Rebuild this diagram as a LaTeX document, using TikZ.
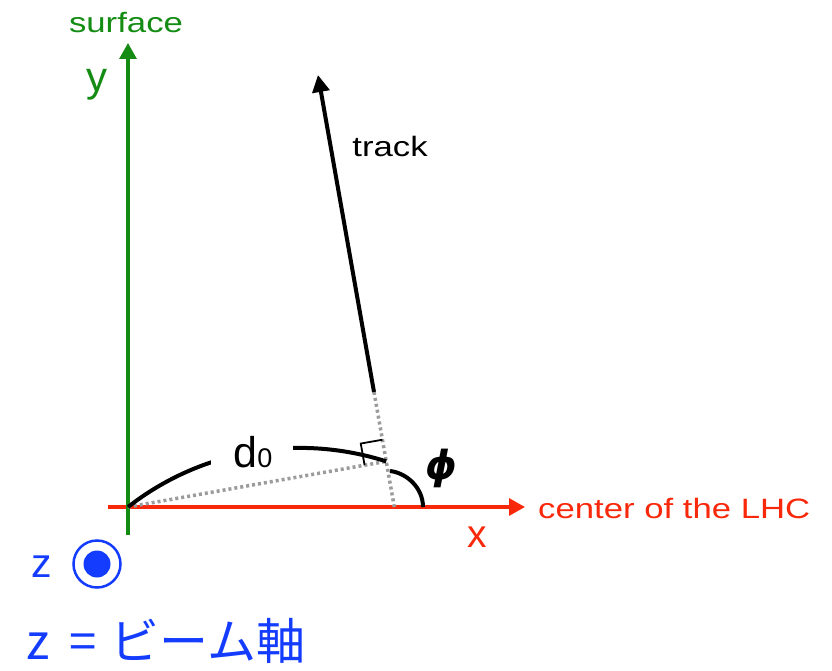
\documentclass[tikz,border=0pt]{standalone}
\usepackage{fontspec}
\usepackage{graphicx}
\setmainfont{Liberation Sans}
\newfontfamily\jpfont{Noto Sans CJK JP}
\newfontfamily\dvfont{DejaVu Sans}
\usetikzlibrary{arrows.meta,calc}
\definecolor{axgreen}{RGB}{20,140,20}
\definecolor{axred}{RGB}{250,40,10}
\definecolor{zblue}{RGB}{20,60,255}
\definecolor{dotgray}{RGB}{155,155,155}
\newcommand\widetext[1]{\scalebox{1.24}[1]{#1}}
\begin{document}
\begin{tikzpicture}[x=1pt,y=-1pt,
  axisline/.style={line width=3.3pt,-{Triangle[length=16pt,width=17pt]}},
  trackline/.style={line width=4pt,-{Triangle[length=17pt,width=17pt]}},
  guide/.style={dotgray,line width=3.5pt,dash pattern=on 3pt off 3pt},
  measure/.style={line width=4pt},
  rightmark/.style={line width=1.8pt},
  smalllabel/.style={inner sep=0pt,font=\fontsize{28pt}{32pt}\selectfont},
  biglabel/.style={inner sep=0pt,font=\fontsize{42pt}{46pt}\selectfont}]
\useasboundingbox (0,0) rectangle (832,671);

% axes
\coordinate (O) at (128,507);
\coordinate (Xstart) at (108,507);
\coordinate (Xend) at (525,507);
\coordinate (Ystart) at (128,535);
\coordinate (Yend) at (128,43);
\draw[axisline,axred] (Xstart) -- (Xend);
\draw[axisline,axgreen] (Ystart) -- (Yend);

% track
\coordinate (S) at (374,392);
\coordinate (T) at (318,75);
\coordinate (F) at ($(S)!(O)!(T)$);
\coordinate (P) at (intersection of S--T and O--Xend);
\draw[guide] (S) -- (P);
\draw[guide] (O) -- (F);
\draw[trackline] (S) -- (T);

% right angle mark
\coordinate (RA) at ($(F)!22pt!(T)$);
\coordinate (RB) at ($(F)!22pt!(O)$);
\coordinate (RC) at ($(RA)+(RB)-(F)$);
\draw[rightmark] (RA) -- (RC) -- (RB);

% d0 measure arc
\draw[measure] (O) .. controls (201,450) and (297,433) .. (F);
\fill[white] (211,436) rectangle (293,472);
\node[inner sep=0pt,anchor=base] (d0) at (253,467)
  {\fontsize{43pt}{46pt}\selectfont d\fontsize{27pt}{30pt}\selectfont 0};

% phi arc
\coordinate (PhiA) at (390,471);
\coordinate (PhiB) at (423,507);
\draw[measure] (PhiA) .. controls (407,473) and (423,488) .. (PhiB);
\node[inner sep=0pt] (phi) at (441,468)
  {\dvfont\bfseries\itshape\fontsize{40pt}{44pt}\selectfont ϕ};

% labels
\node[smalllabel,text=axgreen,anchor=base] (surf) at (126,33) {\widetext{surface}};
\node[biglabel,text=axgreen,anchor=base] (ylab) at (97,92) {y};
\node[biglabel,text=axred,anchor=base,font=\fontsize{39pt}{42pt}\selectfont] (xlab) at (477,547) {x};
\node[smalllabel,text=axred,anchor=base west] (lhc) at (538,518) {\widetext{center of the LHC}};
\node[smalllabel,anchor=base] (tracklab) at (390,157) {\widetext{track}};

% z axis symbol
\node[biglabel,text=zblue,anchor=base,font=\fontsize{41pt}{44pt}\selectfont] (zlab) at (42,577) {z};
\node[circle,draw=zblue,line width=2.5pt,minimum size=47pt,inner sep=0pt] (zc) at (97,564) {};
\fill[zblue] (zc.center) circle[radius=13.5];
\node[inner sep=0pt,anchor=base west,text=zblue,font=\jpfont\fontsize{49pt}{54pt}\selectfont] (zdef) at (26,659) {z\kern20pt=\kern14ptビーム軸};
\end{tikzpicture}
\end{document}
